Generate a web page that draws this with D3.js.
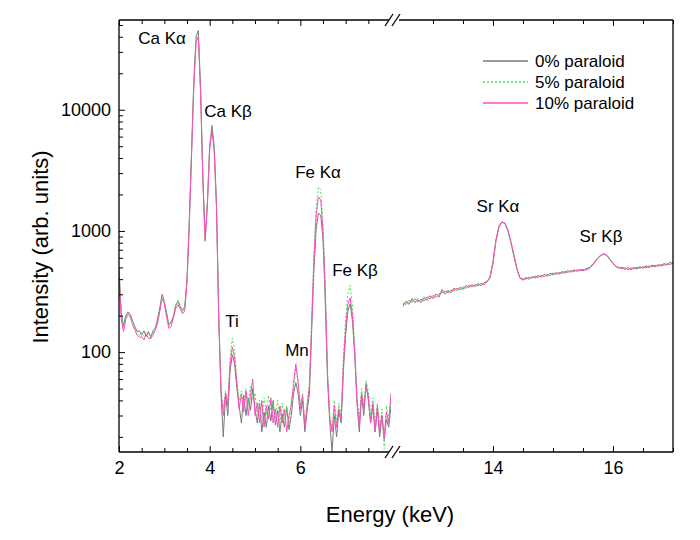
<!DOCTYPE html>
<html><head><meta charset="utf-8">
<script src="https://cdn.jsdelivr.net/npm/d3@7"></script>
<style>body{margin:0;background:#fff}svg{display:block}text{font-family:Arial,"Liberation Sans",sans-serif;fill:#000}</style>
</head><body><svg id="c" width="700" height="540"></svg>
<script>
// ---------- data ----------
const energyLow = [2.00,2.05,2.10,2.15,2.20,2.25,2.30,2.35,2.40,2.45,2.50,2.55,2.60,2.65,2.70,2.75,2.80,2.85,2.90,2.95,
3.00,3.05,3.10,3.15,3.20,3.25,3.30,3.35,3.40,3.45,3.50,3.55,3.60,3.65,3.70,3.75,3.80,3.85,3.90,3.95,
4.00,4.05,4.10,4.15,4.20,4.25,4.30,4.35,4.40,4.45,4.50,4.55,4.60,4.65,4.70,4.75,4.80,4.85,4.90,4.95,
5.00,5.05,5.10,5.15,5.20,5.25,5.30,5.35,5.40,5.45,5.50,5.55,5.60,5.65,5.70,5.75,5.80,5.85,5.90,5.95,
6.00,6.05,6.10,6.15,6.20,6.25,6.30,6.35,6.40,6.45,6.50,6.55,6.60,6.65,6.70,6.75,6.80,6.85,6.90,6.95,
7.00,7.05,7.10,7.15,7.20,7.25,7.30,7.35,7.40,7.45,7.50,7.55,7.60,7.65,7.70,7.75,7.80,7.85,7.90,7.95,8.00];
const energyHigh = [12.50,12.55,12.60,12.65,12.70,12.75,12.80,12.85,12.90,12.95,
13.00,13.05,13.10,13.15,13.20,13.25,13.30,13.35,13.40,13.45,13.50,13.55,13.60,13.65,13.70,13.75,13.80,13.85,13.90,13.95,
14.00,14.05,14.10,14.15,14.20,14.25,14.30,14.35,14.40,14.45,14.50,14.55,14.60,14.65,14.70,14.75,14.80,14.85,14.90,14.95,
15.00,15.05,15.10,15.15,15.20,15.25,15.30,15.35,15.40,15.45,15.50,15.55,15.60,15.65,15.70,15.75,15.80,15.85,15.90,15.95,
16.00,16.05,16.10,16.15,16.20,16.25,16.30,16.35,16.40,16.45,16.50,16.55,16.60,16.65,16.70,16.75,16.80,16.85,16.90,16.95,17.00];

const p0Low = [480,210,165,200,215,205,180,162,148,150,
138,150,135,148,132,150,158,188,232,300,
262,212,168,178,198,242,262,238,222,236,
400,1200,4500,17000,40000,45000,15000,2800,850,1700,
5000,7400,5000,1700,200,45,20,44,30,70,
95,80,50,36,26,44,30,42,33,50,
34,26,38,22,32,24,36,27,40,25,
33,22,31,24,35,23,30,45,56,46,
30,40,22,33,45,150,480,1050,1400,1350,
850,260,60,26,15,30,20,33,26,70,
140,220,250,180,95,38,22,44,30,55,
40,26,36,22,34,20,30,19,28,24,36];
const p5Low = [500,200,160,192,212,196,182,155,147,138,
145,135,147,138,134,143,157,178,222,285,
258,206,163,174,193,247,268,246,213,230,
390,1150,4300,16000,37000,41000,14000,2700,840,1700,
4900,7000,4800,1600,195,50,34,48,38,90,
130,105,58,40,48,34,50,36,52,40,
46,30,40,27,42,30,44,33,38,28,
40,26,38,28,36,25,40,50,75,55,
36,46,26,38,55,190,650,1600,2300,2200,
1150,360,70,30,24,40,26,38,30,90,
190,310,355,240,115,42,28,50,36,58,
48,30,42,26,38,24,34,16,36,28,44];
const p10Low = [450,185,148,188,203,196,168,152,138,132,
134,126,141,130,129,138,152,172,217,278,
252,193,157,163,192,228,247,228,207,218,
380,1100,4200,15500,36000,40000,13500,2600,820,1650,
4700,6700,4600,1550,190,48,30,46,36,80,
110,90,55,34,45,32,48,30,44,60,
30,38,26,40,24,36,28,42,26,34,
24,36,26,34,22,30,36,55,80,58,
34,44,24,36,52,170,580,1350,1900,1800,
1000,320,65,28,22,36,24,34,28,80,
160,250,280,200,100,40,24,46,34,52,
44,26,38,22,36,22,30,20,32,26,46];

const p0High = [245,262,248,276,258,272,256,282,268,292,
276,302,284,330,302,320,308,338,322,342,
328,355,342,360,346,368,352,374,380,420,
560,850,1100,1190,1150,1000,800,620,480,410,
392,414,398,422,408,430,414,438,422,448,
434,452,440,462,448,472,456,478,464,480,
468,488,495,520,560,600,630,650,625,580,
540,508,492,502,482,498,478,500,485,507,
492,512,498,522,505,528,512,538,522,550,538];
const p5High = [238,266,252,272,255,278,262,288,268,295,
280,300,288,326,298,325,310,334,320,345,
333,352,338,362,350,370,356,377,386,415,
550,840,1090,1185,1140,990,790,610,475,412,
390,415,398,425,406,432,418,440,425,450,
437,458,442,465,452,474,460,480,466,484,
470,490,498,525,565,605,635,648,620,575,
535,514,490,507,480,500,483,502,488,510,
496,518,500,525,508,530,516,540,525,553,545];
const p10High = [252,248,268,258,276,260,274,264,286,274,
294,282,302,310,320,310,324,322,338,326,
346,336,358,344,362,352,370,358,380,410,
540,830,1080,1180,1160,1010,810,630,490,405,
402,400,416,406,424,412,430,420,438,428,
450,438,454,446,464,454,472,462,478,468,
482,474,490,515,555,595,628,645,630,585,
545,505,502,485,498,480,496,486,502,490,
508,496,516,504,522,510,528,518,538,528,545];

const seriesNames = ["0% paraloid","5% paraloid","10% paraloid"];
const seriesColors = ["#7a7a7a","#3fe83f","#ff4cc0"];
const xTickLabelsLow = [2,4,6];
const xTickLabelsHigh = [14,16];
const xMinorLow = [2.5,3,3.5,4.5,5,5.5,6.5,7,7.5];
const xMinorHigh = [13,13.5,14.5,15,15.5,16.5,17];
const yTickLabels = [100,1000,10000];
const peakLabels = ["Ca Kα","Ca Kβ","Ti","Mn","Fe Kα","Fe Kβ","Sr Kα","Sr Kβ"];

// ---------- layout ----------
const L=119, R=673, T=20, B=452;
const svg=d3.select("#c");
const xLow=d3.scaleLinear().domain([2,8]).range([L,391]);
const xHigh=d3.scaleLinear().domain([12.5,17]).range([403,R]);
const y=d3.scaleLog().domain([15,55000]).range([B,T]);

const defs=svg.append("defs");
defs.append("clipPath").attr("id","cl").append("rect").attr("x",L).attr("y",T).attr("width",391-L).attr("height",B-T);
defs.append("clipPath").attr("id","ch").append("rect").attr("x",400).attr("y",T).attr("width",R-400).attr("height",B-T);

const lowSeries=[p0Low,p5Low,p10Low], highSeries=[p0High,p5High,p10High];
const order=[0,1,2];
function drawSeg(xs,energies,series,clip){
  const g=svg.append("g").attr("clip-path",`url(#${clip})`);
  order.forEach(i=>{
    const line=d3.line().x((d,k)=>xs(energies[k])).y(d=>y(d));
    g.append("path").attr("d",line(series[i])).attr("fill","none")
      .attr("stroke",seriesColors[i]).attr("stroke-width",1)
      .attr("stroke-linejoin","round")
      .attr("stroke-dasharray",i===1?"2,2":null);
  });
}
drawSeg(xLow,energyLow,lowSeries,"cl");
drawSeg(xHigh,energyHigh,highSeries,"ch");

// ---------- axes ----------
function styleAxis(g){g.select(".domain").remove();g.selectAll("line").attr("stroke","#000");g.selectAll("text").style("font-size","18px").attr("fill","#000");}
// bottom
svg.append("g").attr("transform",`translate(0,${B})`).call(d3.axisBottom(xLow).tickValues(xTickLabelsLow).tickSize(-6).tickPadding(9).tickFormat(d3.format("d"))).call(styleAxis);
svg.append("g").attr("transform",`translate(0,${B})`).call(d3.axisBottom(xHigh).tickValues(xTickLabelsHigh).tickSize(-6).tickPadding(9).tickFormat(d3.format("d"))).call(styleAxis);
svg.append("g").attr("transform",`translate(0,${B})`).call(d3.axisBottom(xLow).tickValues(xMinorLow).tickSize(-4).tickFormat("")).call(styleAxis);
svg.append("g").attr("transform",`translate(0,${B})`).call(d3.axisBottom(xHigh).tickValues(xMinorHigh).tickSize(-4).tickFormat("")).call(styleAxis);
// top
svg.append("g").attr("transform",`translate(0,${T})`).call(d3.axisTop(xLow).tickValues(xTickLabelsLow).tickSize(-6).tickFormat("")).call(styleAxis);
svg.append("g").attr("transform",`translate(0,${T})`).call(d3.axisTop(xHigh).tickValues(xTickLabelsHigh).tickSize(-6).tickFormat("")).call(styleAxis);
svg.append("g").attr("transform",`translate(0,${T})`).call(d3.axisTop(xLow).tickValues(xMinorLow).tickSize(-4).tickFormat("")).call(styleAxis);
svg.append("g").attr("transform",`translate(0,${T})`).call(d3.axisTop(xHigh).tickValues(xMinorHigh).tickSize(-4).tickFormat("")).call(styleAxis);
// left
const yMinor=y.ticks().filter(v=>!yTickLabels.includes(v));
svg.append("g").attr("transform",`translate(${L},0)`).call(d3.axisLeft(y).tickValues(yTickLabels).tickSize(-6).tickPadding(8).tickFormat(d3.format("d"))).call(styleAxis);
svg.append("g").attr("transform",`translate(${L},0)`).call(d3.axisLeft(y).tickValues(yMinor).tickSize(-4).tickFormat("")).call(styleAxis);

// frame with breaks
const fr=svg.append("g").attr("stroke","#000").attr("stroke-width",1.3).attr("fill","none");
[[L,B,L,T],[R,B,R,T],[L,B,389,B],[399,B,R,B],[L,T,389,T],[399,T,R,T]].forEach(a=>
  fr.append("line").attr("x1",a[0]).attr("y1",a[1]).attr("x2",a[2]).attr("y2",a[3]));
[B,T].forEach(yy=>{
  fr.append("line").attr("x1",385).attr("y1",yy+6).attr("x2",393).attr("y2",yy-6);
  fr.append("line").attr("x1",392).attr("y1",yy+6).attr("x2",400).attr("y2",yy-6);
});

// titles
svg.append("text").attr("x",390).attr("y",522).attr("text-anchor","middle").style("font-size","22px").text("Energy (keV)");
svg.append("text").attr("transform","translate(48,247) rotate(-90)").attr("text-anchor","middle").style("font-size","22px").text("Intensity (arb. units)");

// peak labels
const peakPos=[[162,44],[228,117],[232,327],[297,356],[318,178],[355,276],[498,212],[601,242]];
peakLabels.forEach((t,i)=>svg.append("text").attr("x",peakPos[i][0]).attr("y",peakPos[i][1]).attr("text-anchor","middle").style("font-size","17px").text(t));

// legend
seriesNames.forEach((n,i)=>{
  const yy=61+i*21;
  svg.append("line").attr("x1",483).attr("x2",528).attr("y1",yy).attr("y2",yy).attr("stroke",seriesColors[i]).attr("stroke-width",1.5).attr("stroke-dasharray",i===1?"2,2":null);
  svg.append("text").attr("x",535).attr("y",yy+6).style("font-size","17px").text(n);
});
</script></body></html>
